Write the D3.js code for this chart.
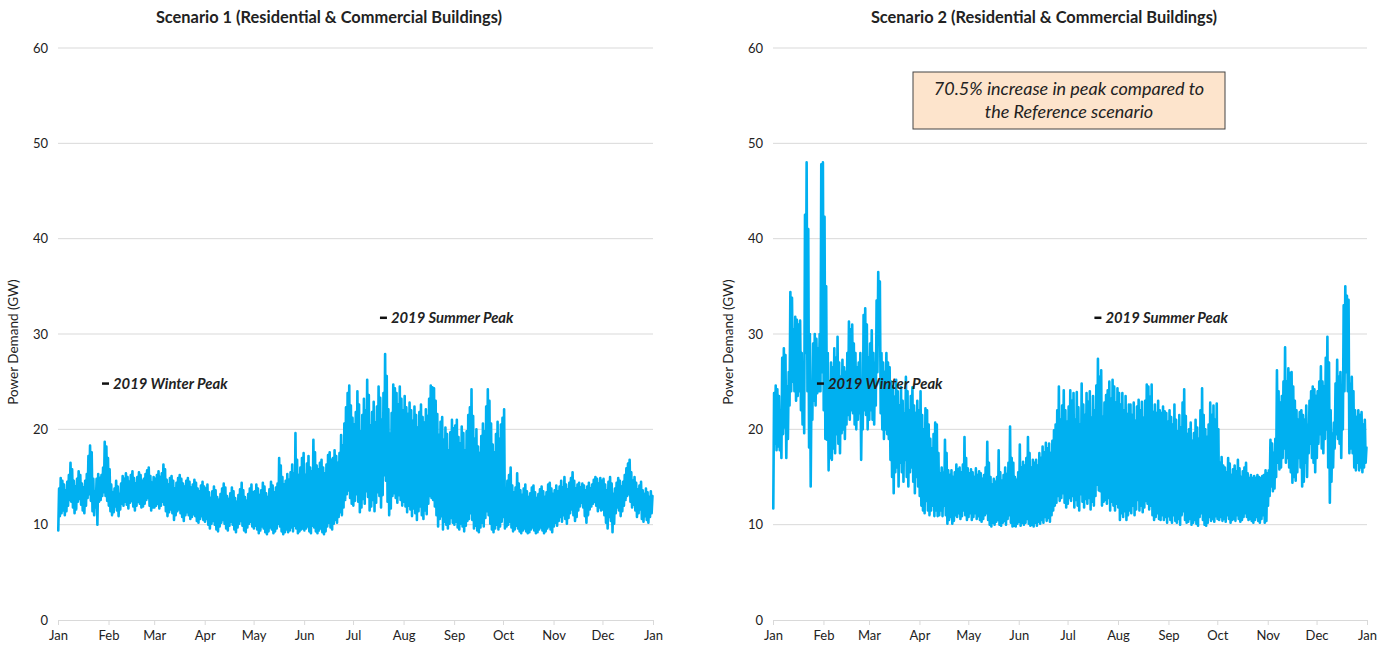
<!DOCTYPE html>
<html>
<head>
<meta charset="utf-8">
<script src="https://cdn.jsdelivr.net/npm/d3@7"></script>
<style>
  body { margin: 0; background: #fff; }
  svg { display: block; }
  text { font-family: Lato, "Open Sans", sans-serif; fill: #222; }
</style>
</head>
<body>
<svg id="chart" width="1385" height="648"></svg>
<script>
// Month tick labels (first of each month, 2019 through Jan 2020)
const monthLabels = ["Jan","Feb","Mar","Apr","May","Jun","Jul","Aug","Sep","Oct","Nov","Dec","Jan"];
const yTicks = [0, 10, 20, 30, 40, 50, 60];

// Reference peak levels (GW)
const winterPeak = 24.8;
const summerPeak = 31.7;

// Scenario 1: daily maximum and minimum demand (GW), Jan 1 .. Dec 31
const s1High = [
  13.8,14.9,14.6,14.2,13.6,14.5,15.2,16.5,15.8,14.6,14.0,14.8,15.6,15.2,14.3,13.9,14.6,15.3,17.2,18.3,17.6,14.8,13.5,14.8,15.3,14.9,15.2,16.0,18.7,18.2,17.0,
  15.8,14.2,13.4,13.8,14.6,14.0,13.2,14.3,15.1,14.8,15.4,15.0,14.5,15.2,15.6,14.9,14.3,15.0,15.5,15.2,14.6,14.8,15.3,15.7,16.0,15.1,14.4,15.0,
  14.8,15.2,15.6,15.0,15.4,16.3,15.8,14.7,14.2,14.9,15.1,14.6,13.8,14.4,14.9,15.2,14.8,14.3,14.0,14.6,14.9,14.5,13.9,14.2,14.7,14.4,13.8,13.5,14.1,14.5,14.0,
  13.8,14.2,13.4,12.8,13.5,14.0,13.6,12.9,12.6,13.2,13.8,14.3,13.9,13.0,12.7,13.3,13.9,13.5,12.8,12.4,13.1,13.7,14.4,13.6,12.9,12.5,13.2,13.8,14.2,13.4,
  13.5,14.2,13.8,13.1,13.6,14.4,14.0,13.3,12.9,13.7,14.5,14.1,13.4,13.9,14.3,17.0,16.2,15.0,14.2,14.6,15.3,14.7,15.5,16.3,15.4,19.6,16.8,15.2,16.0,17.0,17.5,
  15.2,16.4,17.2,16.0,15.6,18.9,17.6,16.2,15.8,16.5,16.8,16.0,15.4,16.3,17.3,17.6,16.8,17.0,17.8,17.2,16.5,17.5,19.4,18.3,20.6,22.3,23.8,24.6,22.5,21.2,
  20.5,21.8,24.0,22.6,19.8,21.5,23.2,22.0,25.2,23.6,20.4,21.8,22.9,20.7,22.4,24.5,23.3,21.0,23.8,27.9,25.6,22.1,19.5,21.7,24.7,24.3,23.8,22.6,24.5,23.2,22.0,
  23.5,22.3,21.6,22.8,22.0,20.9,22.4,21.5,20.2,21.8,22.6,21.3,20.7,22.1,21.4,23.2,24.6,24.4,24.3,23.0,21.6,19.4,20.8,21.3,18.9,20.2,19.5,17.8,19.7,21.0,20.1,
  20.4,21.0,19.2,18.5,20.3,19.6,17.8,19.8,21.5,22.3,24.2,21.4,19.0,20.0,18.2,17.5,19.3,20.6,19.8,22.4,24.2,23.0,20.6,18.4,17.6,19.5,20.8,19.0,20.5,21.2,
  22.1,13.8,14.6,15.2,16.0,14.1,13.4,13.9,15.4,14.3,13.6,13.1,13.8,14.2,13.5,12.9,13.3,13.9,14.1,13.4,12.8,13.2,13.7,14.0,13.5,12.9,13.4,14.2,14.4,13.8,13.2,
  13.6,14.1,13.5,14.0,14.6,13.9,15.0,14.2,13.7,14.4,14.9,15.5,14.6,13.8,14.2,14.4,13.9,14.3,14.1,13.6,14.0,14.4,13.8,14.2,14.7,15.0,14.8,14.3,14.9,14.6,
  14.8,14.2,13.6,14.5,15.0,14.3,13.2,13.8,14.4,14.9,14.6,14.0,14.5,15.2,15.9,16.4,16.8,15.5,14.6,15.0,14.4,13.7,14.1,14.5,13.6,13.2,13.8,13.4,12.9,13.5,13.0
];
const s1Low = [
  9.4,10.9,11.2,11.5,11.0,11.4,12.0,12.6,12.4,11.8,11.2,11.6,12.4,12.7,12.1,11.5,11.2,12.0,12.8,13.2,12.5,11.4,11.0,11.8,10.0,12.4,12.6,13.0,13.4,13.0,12.5,
  12.0,11.4,11.0,11.3,11.9,11.5,10.9,11.6,12.2,12.0,12.4,12.1,11.7,12.3,12.5,11.9,11.5,12.0,12.4,12.2,11.8,11.9,12.2,12.6,12.8,12.0,11.5,11.8,
  11.8,12.0,12.2,11.7,12.0,12.4,12.1,11.4,10.9,11.3,11.6,11.2,10.5,11.0,11.4,11.6,11.2,10.8,10.4,11.0,11.3,11.0,10.6,10.8,11.1,10.9,10.4,10.2,10.6,10.9,10.5,
  10.3,10.6,10.0,9.6,10.1,10.4,10.0,9.5,9.3,9.8,10.2,10.5,10.1,9.6,9.4,9.9,10.3,10.0,9.5,9.2,9.7,10.1,10.4,9.9,9.4,9.2,9.7,10.1,10.3,9.8,
  9.6,9.9,9.5,9.1,9.4,9.8,9.6,9.2,9.0,9.3,9.7,9.5,9.1,9.3,9.6,10.1,9.8,9.3,9.0,9.2,9.5,9.2,9.4,9.7,9.3,9.9,9.6,9.1,9.3,9.5,9.6,
  9.4,9.6,9.8,9.3,9.1,9.9,9.7,9.3,9.1,9.4,9.6,9.2,9.0,9.3,9.8,10.2,9.7,9.5,10.1,10.5,10.2,10.8,11.3,11.0,11.8,12.6,13.2,13.6,12.8,12.2,
  12.0,12.5,13.2,12.4,11.3,11.8,12.7,12.2,13.5,12.9,11.5,11.9,12.6,11.4,12.3,13.4,13.0,11.8,13.1,15.2,14.6,12.4,11.0,11.7,13.0,13.3,12.8,12.3,13.1,12.6,12.0,
  12.4,11.9,11.3,12.0,11.6,10.9,11.7,11.2,10.5,11.4,11.9,11.0,10.6,11.5,11.1,12.2,13.0,12.8,12.6,11.9,11.0,9.8,10.6,10.9,9.5,10.3,10.0,9.6,10.1,10.7,10.2,
  10.0,10.3,9.7,9.5,10.1,9.8,9.3,9.9,10.4,10.6,11.2,10.5,9.6,9.9,9.4,9.2,9.7,10.2,9.8,10.7,11.4,11.0,10.1,9.5,9.2,9.6,10.0,9.5,9.8,10.3,
  10.8,9.6,9.8,10.0,10.3,9.7,9.3,9.5,9.9,9.6,9.3,9.1,9.4,9.6,9.3,9.1,9.2,9.5,9.7,9.4,9.1,9.2,9.5,9.7,9.4,9.1,9.3,9.6,9.8,9.5,9.2,
  9.8,10.2,9.9,10.4,10.8,10.3,11.0,10.6,10.1,10.7,11.2,11.6,11.0,10.4,10.8,11.5,11.9,12.3,11.8,10.9,10.2,11.0,11.6,11.9,12.2,12.4,12.0,11.4,11.8,11.5,
  11.6,11.0,10.2,9.6,10.8,10.4,9.2,10.1,11.2,11.8,11.5,10.9,11.4,12.0,12.6,13.0,13.2,12.4,11.8,12.1,11.5,10.8,11.2,11.6,10.6,10.3,10.9,10.5,10.2,10.8,11.2
];

// Scenario 2: daily maximum and minimum demand (GW), Jan 1 .. Dec 31
const s2High = [
  23.8,24.6,24.2,23.5,22.0,27.5,28.5,27.8,24.5,26.0,34.4,33.8,30.5,31.8,31.5,31.0,31.4,28.0,27.0,42.5,48.0,41.0,30.0,25.0,29.0,30.0,29.5,28.5,30.0,47.8,48.0,
  42.3,35.0,28.0,25.0,27.0,26.5,28.5,27.5,29.7,27.0,25.5,27.3,26.5,26.0,28.0,31.3,30.5,31.0,29.0,28.0,26.5,27.0,28.0,24.0,32.0,32.7,31.0,27.5,
  29.0,30.4,28.0,27.0,33.5,36.5,35.5,28.0,27.0,26.0,28.0,27.0,26.5,25.0,24.5,23.4,25.2,24.0,22.5,24.4,23.0,21.7,25.5,24.0,22.0,23.5,24.4,22.5,21.7,23.0,22.0,
  24.0,21.5,20.0,22.2,22.0,20.5,19.0,18.0,19.5,20.7,20.5,17.5,15.4,16.0,15.5,18.9,17.5,15.7,15.2,15.7,15.0,15.5,16.3,15.8,16.0,15.5,16.3,19.2,17.0,15.9,
  15.4,15.8,15.5,15.0,15.9,15.2,15.6,15.4,14.8,15.2,16.0,18.7,16.5,15.0,14.2,14.8,14.5,15.0,17.8,15.5,14.6,15.2,16.0,15.3,16.5,20.3,17.0,16.5,15.0,14.7,15.5,
  18.4,16.0,16.6,16.2,17.0,19.2,17.5,16.0,16.8,16.5,16.8,16.2,17.5,17.0,18.2,17.6,18.6,18.0,18.5,17.5,18.8,19.9,20.5,22.0,24.5,21.0,22.5,24.1,22.0,20.8,
  22.4,24.1,23.0,23.8,21.0,23.9,22.3,20.5,24.8,22.6,21.5,23.8,22.9,24.0,21.2,23.5,22.0,24.6,27.4,25.5,26.2,21.3,22.8,23.6,24.1,25.0,23.2,25.2,24.5,22.8,24.3,
  23.8,22.6,23.8,22.0,23.5,21.6,22.6,22.6,21.5,22.8,20.9,22.4,23.1,22.0,22.9,21.2,23.0,24.7,24.5,23.4,24.7,21.8,22.6,21.7,23.0,22.0,21.7,22.4,21.9,21.7,20.8,
  22.0,21.3,20.5,22.6,21.0,19.8,21.5,20.2,22.8,24.2,21.4,19.5,20.0,20.7,18.8,19.6,21.0,20.2,19.0,22.0,24.3,21.5,20.0,19.2,20.5,22.8,21.5,22.5,21.0,22.7,
  20.0,16.5,17.1,16.2,16.0,15.5,17.0,16.4,15.2,15.8,16.2,15.6,16.8,15.9,15.0,15.6,16.0,16.5,15.4,14.9,15.2,14.9,15.1,14.9,15.2,15.0,14.9,15.1,15.2,15.7,15.4,
  15.7,18.9,18.5,17.5,19.0,26.2,24.0,22.8,23.5,25.0,28.6,25.0,26.4,25.9,26.0,24.5,23.0,22.0,21.0,21.8,22.0,21.5,21.0,22.5,20.5,23.0,24.0,24.5,24.2,23.5,
  24.0,25.0,26.6,25.0,24.5,27.5,29.7,27.0,22.0,19.5,20.7,24.8,27.3,25.5,26.0,24.0,33.0,35.0,34.0,33.6,24.8,25.5,24.0,22.0,21.3,22.0,21.5,21.8,20.5,21.0,18.1
];
const s2Low = [
  11.7,18.5,17.8,18.2,17.8,17.0,19.5,20.2,17.0,19.0,22.5,24.0,25.0,24.0,23.0,23.5,24.0,22.0,20.5,19.6,28.0,24.0,18.1,14.0,21.0,23.0,22.5,23.8,24.0,24.0,26.0,
  22.0,19.0,18.9,15.7,17.0,16.8,18.0,17.5,19.5,18.5,17.5,19.6,20.0,19.0,20.5,21.5,21.0,22.0,21.7,20.5,20.0,21.0,21.7,16.8,20.0,22.0,21.5,20.0,
  21.0,22.0,21.0,20.5,22.5,26.0,29.4,21.7,20.0,19.0,20.0,19.5,19.0,16.8,15.0,13.3,15.5,16.0,14.0,16.5,15.5,14.5,16.8,15.0,14.0,15.5,16.0,14.5,13.3,15.0,14.0,
  13.0,12.0,11.5,11.2,12.5,11.5,11.0,11.5,12.0,10.9,11.5,10.9,11.0,11.5,10.9,12.0,11.0,10.1,10.5,10.8,10.1,10.4,11.0,10.8,11.2,10.6,10.9,11.5,11.0,10.5,
  10.8,11.2,10.5,10.8,11.2,10.6,10.9,10.5,10.3,10.6,11.0,11.2,10.5,10.0,9.8,10.2,10.0,10.3,10.5,10.0,9.9,10.2,10.4,10.0,10.6,11.0,10.2,9.8,9.9,9.8,10.1,
  10.3,9.9,10.2,10.0,10.2,10.6,10.1,9.9,10.0,9.8,10.2,9.9,10.3,10.1,10.5,10.2,10.8,10.4,10.7,10.3,11.0,11.5,12.0,12.3,13.0,12.5,12.8,13.3,12.3,11.8,
  12.2,12.8,12.5,13.0,11.8,12.6,12.0,11.5,13.2,12.4,11.8,12.7,12.2,12.8,11.6,12.4,12.0,13.0,14.2,13.6,13.5,12.0,12.4,12.6,12.2,12.8,11.5,12.4,12.0,11.5,12.2,
  11.8,10.5,11.2,10.8,11.4,10.5,11.0,11.5,11.2,12.0,11.0,11.6,12.6,11.5,12.0,11.3,11.8,12.5,12.2,11.6,12.0,11.0,10.5,10.8,11.2,10.6,10.5,11.0,10.5,10.8,10.2,
  10.9,10.5,10.2,11.0,10.4,10.2,10.6,10.0,11.0,11.4,10.5,10.2,10.3,10.6,10.0,10.2,10.5,10.1,9.9,10.8,11.2,10.5,10.0,9.9,10.2,10.8,10.4,10.6,10.3,10.9,
  10.6,10.5,10.8,10.4,10.6,10.3,11.0,10.6,10.2,10.5,10.6,10.4,11.0,10.6,10.3,10.5,10.8,11.2,10.8,10.5,10.6,10.4,10.2,10.5,10.8,10.4,10.2,10.6,11.0,10.2,10.4,
  12.0,13.0,14.0,13.5,13.8,15.0,16.5,15.8,16.0,17.0,18.0,16.5,17.0,16.0,15.5,14.4,15.0,14.6,15.5,17.0,16.0,14.0,14.5,16.5,15.0,17.5,18.5,17.0,16.5,15.5,
  17.0,18.5,19.5,18.0,17.5,19.0,20.0,16.0,12.3,14.5,16.0,18.0,19.5,19.0,18.5,17.0,20.0,24.0,26.0,24.0,17.5,18.0,17.5,16.0,15.7,16.5,15.7,16.0,15.5,16.0,16.5
];

const panels = [
  { title: "Scenario 1 (Residential & Commercial Buildings)", high: s1High, low: s1Low, left: 58, right: 653, note: null },
  { title: "Scenario 2 (Residential & Commercial Buildings)", high: s2High, low: s2Low, left: 773, right: 1367,
    note: ["70.5% increase in peak compared to", "the Reference scenario"] }
];

const svg = d3.select("#chart");
const plotTop = 48, plotBottom = 620;
const y = d3.scaleLinear().domain([0, 60]).range([plotBottom, plotTop]);
const yearStart = new Date(2019, 0, 1), yearEnd = new Date(2020, 0, 1);

// Within each day the minimum falls in the early morning and the maximum in the afternoon
function dailySeries(low, high) {
  const pts = [];
  low.forEach((lo, i) => {
    pts.push({ t: new Date(2019, 0, 1 + i, 4), v: lo });
    pts.push({ t: new Date(2019, 0, 1 + i, 16), v: high[i] });
  });
  return pts;
}

panels.forEach(p => {
  const x = d3.scaleTime().domain([yearStart, yearEnd]).range([p.left, p.right]);
  const g = svg.append("g");

  // horizontal gridlines
  g.selectAll(".grid").data(yTicks.filter(d => d > 0)).join("line")
    .attr("x1", p.left).attr("x2", p.right)
    .attr("y1", d => y(d)).attr("y2", d => y(d))
    .attr("stroke", "#d9d9d9").attr("stroke-width", 1);

  // y tick labels
  g.selectAll(".ylab").data(yTicks).join("text")
    .attr("x", p.left - 10).attr("y", d => y(d)).attr("dy", "0.35em")
    .attr("text-anchor", "end").attr("font-size", 13).text(d => d);

  // x axis
  const months = d3.range(13).map(m => new Date(2019, m, 1));
  const xAxis = g.append("g").attr("transform", `translate(0,${plotBottom})`)
    .call(d3.axisBottom(x).tickValues(months).tickSize(5).tickPadding(6)
      .tickFormat((d, i) => monthLabels[i]));
  xAxis.select(".domain").attr("stroke", "#d9d9d9");
  xAxis.selectAll(".tick line").attr("stroke", "#d9d9d9");
  xAxis.selectAll(".tick text").attr("font-size", 13).attr("fill", "#222")
    .style("font-family", "Lato, 'Open Sans', sans-serif");

  // y axis title
  g.append("text")
    .attr("transform", `translate(${p.left - 40},${(plotTop + plotBottom) / 2 + 8}) rotate(-90)`)
    .attr("text-anchor", "middle").attr("font-size", 13.5).text("Power Demand (GW)");

  // chart title
  g.append("text").attr("x", p.left + 271).attr("y", 23)
    .attr("text-anchor", "middle").attr("font-size", 16.4).attr("font-weight", 700)
    .text(p.title);

  // demand series
  const line = d3.line().x(d => x(d.t)).y(d => y(d.v));
  g.append("path").datum(dailySeries(p.low, p.high))
    .attr("d", line).attr("fill", "none")
    .attr("stroke", "#00b0f0").attr("stroke-width", 2.6)
    .attr("stroke-linejoin", "round").attr("stroke-linecap", "round");

  // 2019 peak markers
  const marks = [
    { v: winterPeak, t: new Date(2019, 0, 28), label: "2019 Winter Peak" },
    { v: summerPeak, t: new Date(2019, 6, 17, 12), label: "2019 Summer Peak" }
  ];
  marks.forEach(m => {
    const mx = x(m.t), my = y(m.v);
    g.append("line").attr("x1", mx).attr("x2", mx + 7).attr("y1", my).attr("y2", my)
      .attr("stroke", "#111").attr("stroke-width", 2.5);
    g.append("text").attr("x", mx + 11).attr("y", my).attr("dy", "0.35em")
      .attr("font-size", 14.8).attr("font-weight", 700).attr("font-style", "italic")
      .attr("fill", "#111").text(m.label);
  });

  // callout box
  if (p.note) {
    const bx = p.left + 140, bw = 312, by = 72, bh = 57;
    g.append("rect").attr("x", bx).attr("y", by).attr("width", bw).attr("height", bh)
      .attr("fill", "#fde4cc").attr("stroke", "#444").attr("stroke-width", 1);
    g.selectAll(".note").data(p.note).join("text")
      .attr("x", bx + bw / 2).attr("y", (d, i) => by + 17 + i * 23).attr("dy", "0.35em")
      .attr("text-anchor", "middle").attr("font-size", 18).attr("font-style", "italic")
      .attr("fill", "#1a1a1a").text(d => d);
  }
});
</script>
</body>
</html>
